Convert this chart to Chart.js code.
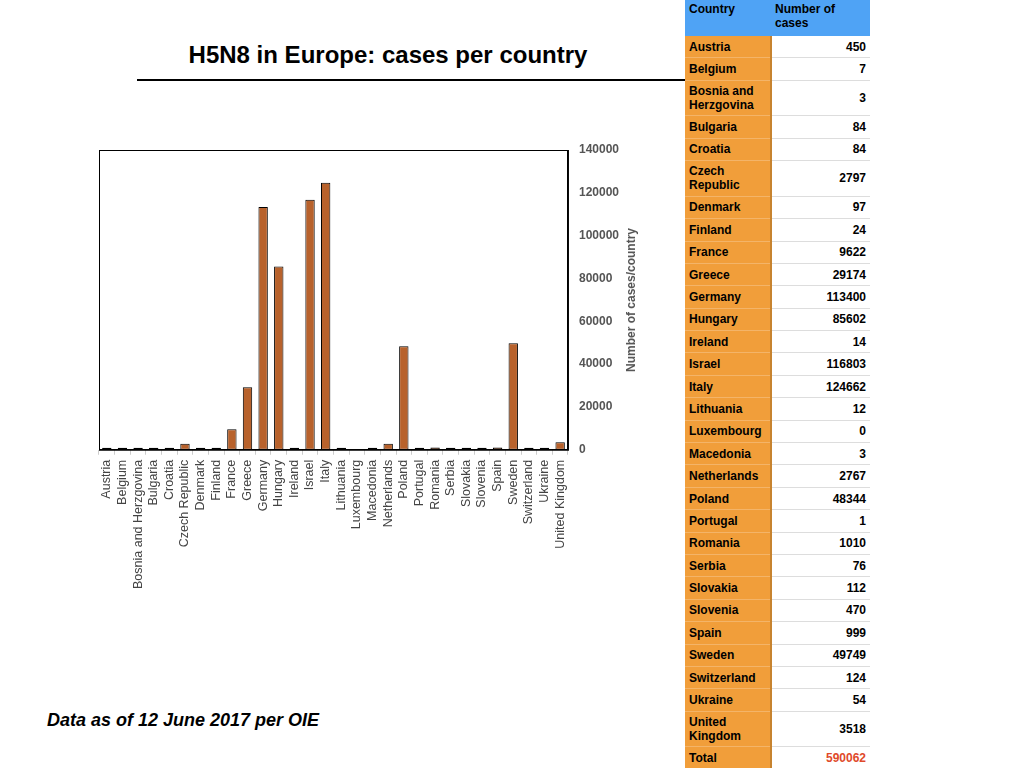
<!DOCTYPE html>
<html>
<head>
<meta charset="utf-8">
<script src="https://cdn.jsdelivr.net/npm/chart.js@4/dist/chart.umd.min.js"></script>
<style>
  body { margin: 0; width: 1024px; height: 768px; background: #fff; font-family: "Liberation Sans", Arial, sans-serif; position: relative; overflow: hidden; }
  #title { position: absolute; left: 137px; width: 502px; top: 41px; text-align: center; font-size: 24px; font-weight: bold; color: #000; }
  #rule { position: absolute; left: 137px; top: 79px; width: 550px; height: 2px; background: #000; }
  #note { position: absolute; left: 47px; top: 710px; font-size: 18px; font-weight: bold; font-style: italic; }
  #ytitle { position: absolute; left: 631px; top: 300px; transform: translate(-50%, -50%) rotate(-90deg); white-space: nowrap; font-size: 12px; font-weight: bold; color: #555; }
  #wrap { position: absolute; left: 0; top: 0; width: 680px; height: 600px; }
  #tbl { position: absolute; left: 685px; top: 0; width: 185px; border-collapse: collapse; font-size: 12px; font-weight: bold; }
  #tbl td, #tbl th { padding: 0 4px; border-bottom: 1px solid #ddd; line-height: 14px; }
  #tbl th { background: #4fa3f5; text-align: left; vertical-align: top; height: 34px; padding-top: 2px; font-weight: bold; border-bottom: none; }
  #tbl td.c { background: #f19e3a; width: 77px; border-right: 2px solid #c7832f; border-bottom: 1px solid #f4b468; }
  #tbl td.v { text-align: right; background: #fff; }
  #tbl tr.one td { height: 21.4px; }
  #tbl tr.two td { height: 34.6px; }
  #tbl td.red { color: #e04a2a; }
</style>
</head>
<body>
<div id="title">H5N8 in Europe: cases per country</div>
<div id="rule"></div>
<div id="wrap"><canvas id="chart"></canvas></div>
<div id="ytitle">Number of cases/country</div>
<table id="tbl"></table>
<div id="note">Data as of 12 June 2017 per OIE</div>
<script>
const countries = ["Austria", "Belgium", "Bosnia and Herzgovina", "Bulgaria", "Croatia", "Czech Republic",
  "Denmark", "Finland", "France", "Greece", "Germany", "Hungary", "Ireland", "Israel", "Italy",
  "Lithuania", "Luxembourg", "Macedonia", "Netherlands", "Poland", "Portugal", "Romania", "Serbia",
  "Slovakia", "Slovenia", "Spain", "Sweden", "Switzerland", "Ukraine", "United Kingdom"];
const cases = [450, 7, 3, 84, 84, 2797, 97, 24, 9622, 29174, 113400, 85602, 14, 116803, 124662,
  12, 0, 3, 2767, 48344, 1, 1010, 76, 112, 470, 999, 49749, 124, 54, 3518];
const yTicks = [0, 20000, 40000, 60000, 80000, 100000, 120000, 140000];
const total = 590062;

// table on the right
const tableNames = countries.map(c => c === "Czech Republic" ? "Czech<br>Republic" :
  c === "Bosnia and Herzgovina" ? "Bosnia and<br>Herzgovina" :
  c === "United Kingdom" ? "United<br>Kingdom" : c);
let rows = '<tr><th style="width:77px">Country</th><th>Number of<br>cases</th></tr>';
tableNames.forEach((n, i) => {
  const cls = n.indexOf("<br>") >= 0 ? "two" : "one";
  rows += `<tr class="${cls}"><td class="c">${n}</td><td class="v">${cases[i]}</td></tr>`;
});
rows += `<tr class="one"><td class="c">Total</td><td class="v red">${total}</td></tr>`;
document.getElementById("tbl").innerHTML = rows;

// frame around the plot area
const boxPlugin = {
  id: "box",
  afterDatasetsDraw(chart) {
    const a = chart.chartArea, ctx = chart.ctx;
    ctx.save();
    ctx.strokeStyle = "#000";
    ctx.lineWidth = 1;
    ctx.strokeRect(a.left + 0.5, a.top + 0.5, a.right - a.left, a.bottom - a.top);
    ctx.restore();
  }
};

new Chart(document.getElementById("chart"), {
  type: "bar",
  data: {
    labels: countries,
    datasets: [{
      data: cases,
      backgroundColor: c => c.raw === 0 ? "transparent" : "#b8622c",
      borderColor: "#000",
      borderWidth: c => c.raw === 0 ? 0 : 1,
      borderSkipped: false,
      minBarLength: 2,
      barPercentage: 0.6,
      categoryPercentage: 1
    }]
  },
  options: {
    responsive: true,
    maintainAspectRatio: false,
    animation: false,
    layout: { padding: { left: 99, top: 150, right: 58, bottom: 6 } },
    plugins: { legend: { display: false }, tooltip: { enabled: false } },
    scales: {
      x: {
        grid: { display: true, drawOnChartArea: false, drawTicks: true, tickLength: 5, color: "#ccc", offset: true },
        border: { display: true, color: "#000" },
        ticks: { minRotation: 90, maxRotation: 90, autoSkip: false, padding: 5, color: "#444",
          font: { family: "Liberation Sans", size: 12.5 } }
      },
      y: {
        position: "right",
        min: 0, max: 140000,
        afterBuildTicks: s => { s.ticks = yTicks.map(v => ({ value: v })); },
        grid: { display: false },
        border: { display: true, color: "#000" },
        ticks: { padding: 3, color: "#555", callback: v => String(v),
          font: { family: "Liberation Sans", size: 12, weight: "bold" } }
      }
    }
  },
  plugins: [boxPlugin]
});
</script>
</body>
</html>
